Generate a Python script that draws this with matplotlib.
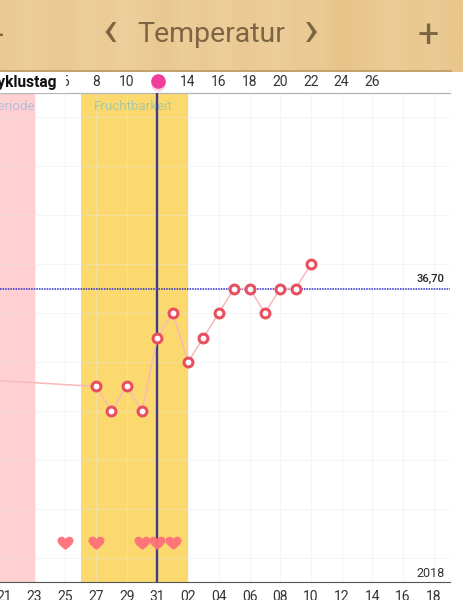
import matplotlib
matplotlib.use("Agg")
import matplotlib.pyplot as plt
from matplotlib.colors import to_rgb
from matplotlib.path import Path

plt.rcParams['font.family'] = ['Roboto', 'DejaVu Sans']

# --- data ---
point_days = [-26, 0, 1, 2, 3, 4, 5, 6, 7, 8, 9, 10, 11, 12, 13, 14]
temps = [36.55, 36.50, 36.45, 36.50, 36.45, 36.60, 36.65, 36.55, 36.60,
         36.65, 36.70, 36.70, 36.65, 36.70, 36.70, 36.75]
heart_days = [-2, 0, 3, 4, 5]
bottom_ticks = [-6, -4, -2, 0, 2, 4, 6, 8, 10, 12, 14, 16, 18, 20, 22]
bottom_labels = ['21', '23', '25', '27', '29', '31', '02', '04', '06', '08',
                 '10', '12', '14', '16', '18']
top_ticks = [-2, 0, 2, 6, 8, 10, 12, 14, 16, 18]
top_labels = ['6', '8', '10', '14', '16', '18', '20', '22', '24', '26']
egg_day = 4
grid_temps = [37.05, 36.95, 36.85, 36.75, 36.65, 36.55, 36.45, 36.35, 36.25, 36.15]
period_days = (-6.3, -4)
fertile_days = (-1, 6)
ref_temp = 36.70
ref_label = '36,70'
year_label = '2018'
wood_colors = ['#EACA94', '#ECCE99', '#EBCB95', '#EAC992', '#ECCF9B', '#EBCB95',
               '#EDD09D', '#EBCC97', '#E9C891', '#ECCE99', '#EACA94', '#ECCF9B',
               '#EAC993', '#EBCC97', '#ECCE9A', '#EAC992', '#EBCB95', '#E7C48A',
               '#E8C68C', '#EACA93', '#ECCD97', '#E9C890', '#EBCC96', '#E8C68C']

fig = plt.figure(figsize=(4.64, 6.0), dpi=100)
fig.patch.set_facecolor('white')

# header
h = fig.add_axes([0, 1 - 72 / 600, 1, 72 / 600])
h.set_xlim(0, 464)
h.set_ylim(72, 0)
h.axis('off')
h.imshow([[to_rgb(c) for c in wood_colors]], extent=(0, 464, 72, 0), aspect='auto',
         interpolation='bilinear')
h.plot([0, 452], [70.5, 70.5], color='#C4A26C', lw=1.5, solid_capstyle='butt')
txt = '#7D6443'
h.text(211, 35, 'Temperatur', ha='center', va='center', fontsize=20.5, color=txt)
h.text(110, 32, '‹', ha='center', va='center', fontsize=36, color=txt)
h.text(311, 32, '›', ha='center', va='center', fontsize=36, color=txt)
h.text(428.5, 37, '+', ha='center', va='center', fontsize=27, color=txt)
h.text(-1, 35, '-', ha='center', va='center', fontsize=22, color=txt)

# plot
ax = fig.add_axes([0, 18 / 600, 450 / 464, 489 / 600])
ax.set_xlim(-6.254, 23.06)
ax.set_ylim(36.101, 37.099)
ax.patch.set_alpha(0)
for s in ('left', 'right'):
    ax.spines[s].set_visible(False)
ax.spines['top'].set_color('#B5B5B5')
ax.spines['top'].set_linewidth(0.9)
ax.spines['bottom'].set_color('#555555')
ax.spines['bottom'].set_linewidth(0.8)

ax.axvspan(*period_days, color='#FFCFD1', lw=0, zorder=0)
ax.axvspan(*fertile_days, color='#FBD96F', lw=0, zorder=0)
ax.set_xticks(bottom_ticks, bottom_labels)
ax.set_yticks(grid_temps)
ax.grid(True, color='#E8E8E8', alpha=0.4, lw=0.75, zorder=1)
ax.tick_params(axis='both', length=0)
ax.tick_params(axis='x', labelsize=10, pad=5.5, labelcolor='#333333')
ax.tick_params(axis='y', labelleft=False)

ax.axhline(ref_temp, color='#2A2ACC', lw=1.1, ls=(0, (1, 0.7)), zorder=2)
ax.axvline(egg_day, color='#3F3A8E', lw=1.7, zorder=3)
ax.plot(point_days, temps, color='#F7B9B9', lw=1.1, zorder=4)
ax.plot(point_days, temps, ls='none', marker='o', ms=6.4, mfc='white',
        mec='#E8505F', mew=2.2, zorder=5)

heart = Path([(0, -0.8), (-0.55, -0.4), (-1.0, -0.05), (-1.0, 0.35), (-1.0, 0.75),
              (-0.65, 0.85), (-0.45, 0.85), (-0.2, 0.85), (0, 0.65), (0, 0.5),
              (0, 0.65), (0.2, 0.85), (0.45, 0.85), (0.65, 0.85), (1.0, 0.75),
              (1.0, 0.35), (1.0, -0.05), (0.55, -0.4), (0, -0.8)],
             [Path.MOVETO] + [Path.CURVE4] * 18)
ax.plot(heart_days, [36.181] * len(heart_days), ls='none', marker=heart, ms=11.5,
        mfc='#FF7078', mec='none', alpha=0.95, zorder=4)

px = ax.get_xaxis_transform()
ax.text(-3.97, 1 - 13 / 489, 'Periode', transform=px, ha='right', va='center',
        fontsize=9.6, color='#B7BEDC', clip_on=False)
ax.text(-0.12, 1 - 13 / 489, 'Fruchtbarkeit', transform=px, ha='left', va='center',
        fontsize=9.6, color='#A9C8A0', zorder=2)
ax.text(444.5 / 450, 36.70 + 10 / 490, ref_label, transform=ax.get_yaxis_transform(),
        ha='right', va='center', fontsize=8, color='#222222', fontweight='medium')
ax.text(445 / 450, 8.5 / 489, year_label, transform=ax.transAxes,
        ha='right', va='center', fontsize=9, color='#333333')

# top row labels
top = ax.secondary_xaxis('top')
top.set_xticks(top_ticks, top_labels)
top.tick_params(length=0, labelsize=10, pad=3, labelcolor='#333333')
top.spines['top'].set_visible(False)
tr = ax.get_xaxis_transform()
ax.plot([egg_day + 0.05], [1 + 9.5 / 489], transform=tr, marker='o', ms=10.5,
        mfc='#F8D5E4', mec='none', clip_on=False, zorder=6)
ax.plot([egg_day + 0.05], [1 + 12 / 489], transform=tr, marker='o', ms=10.5,
        mfc='#EE3F9E', mec='none', clip_on=False, zorder=7)

# white mask behind row title then title
fig.patches.append(plt.Rectangle((0, 1 - 92.5 / 600), 65.5 / 464, 20 / 600, transform=fig.transFigure,
                                 color='white', lw=0, zorder=5))
fig.text(57 / 464, 1 - 82.5 / 600, 'Zyklustag', ha='right', va='center', fontsize=11.2,
         fontweight='bold', color='#111111', zorder=6)

fig.savefig('out.png', dpi=100)
